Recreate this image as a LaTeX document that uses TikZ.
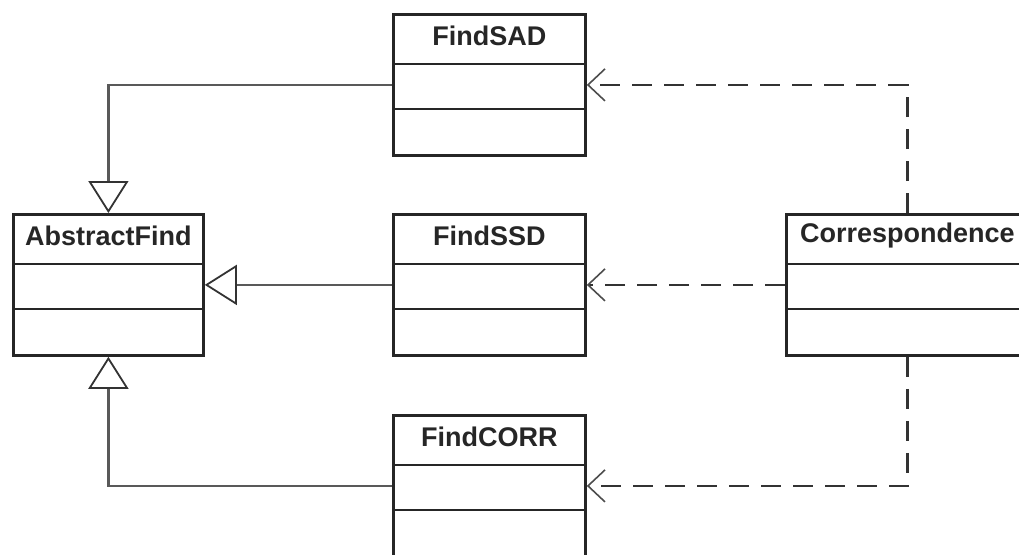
\documentclass[tikz,border=0pt]{standalone}
\usepackage{fontspec}
\setmainfont{Liberation Sans}
\usetikzlibrary{arrows.meta,calc}
\begin{document}
\begin{tikzpicture}[x=1pt,y=-1pt,
  cls/.style={draw=black!85, line width=2.8pt, fill=white, anchor=north west,
    minimum height=141pt, inner sep=0pt},
  ttl/.style={font=\fontsize{27}{30}\selectfont\bfseries, text=black!85, inner sep=0pt},
  sep/.style={draw=black!85, line width=2.8pt},
  gen/.style={draw=black!65, line width=2.6pt,
    -{Triangle[open, length=32pt, width=40pt, line width=1.8pt, color=black!80]}},
  dep/.style={draw=black!80, line width=2.4pt, dash pattern=on 20pt off 12pt,
    -{Straight Barb[length=17pt, width=32pt, line width=1.6pt, color=black!70]}}
]
\useasboundingbox (0,0) rectangle (1019,554);

% classes
\node[cls, minimum width=190pt] (abs)  at (12,213)  {};
\node[cls, minimum width=192pt] (sad)  at (392,13)  {};
\node[cls, minimum width=192pt] (ssd)  at (392,213) {};
\node[cls, minimum width=192pt] (corr) at (392,414) {};
\node[cls, minimum width=242pt] (cor)  at (785,213) {};

\foreach \n in {abs,sad,ssd,corr,cor}{
  \draw[sep] ($(\n.north west)+(0,51)$) -- ($(\n.north east)+(0,51)$);
  \draw[sep] ($(\n.north west)+(0,96)$) -- ($(\n.north east)+(0,96)$);
}

\node[ttl] (tabs)  at ($(abs.north)+(0,22.5)$)  {AbstractFind};
\node[ttl] (tsad)  at ($(sad.north)+(0,22.5)$)  {FindSAD};
\node[ttl] (tssd)  at ($(ssd.north)+(0,22.5)$)  {FindSSD};
\node[ttl] (tcorr) at ($(corr.north)+(0,22.5)$) {FindCORR};
\node[ttl] (tcor)  at ($(cor.north)+(0,22.5)$)  {Correspondence};

% generalizations
\draw[gen] (sad.west) -| (abs.north);
\draw[gen] (ssd.west) -- (abs.east |- ssd.west);
\draw[gen] (corr.west) -| (abs.south);

% dependencies
\draw[dep] (cor.north) |- (sad.east);
\draw[dep] (cor.west) -- (ssd.east);
\draw[dep] (cor.south) |- (corr.east);
\end{tikzpicture}
\end{document}
